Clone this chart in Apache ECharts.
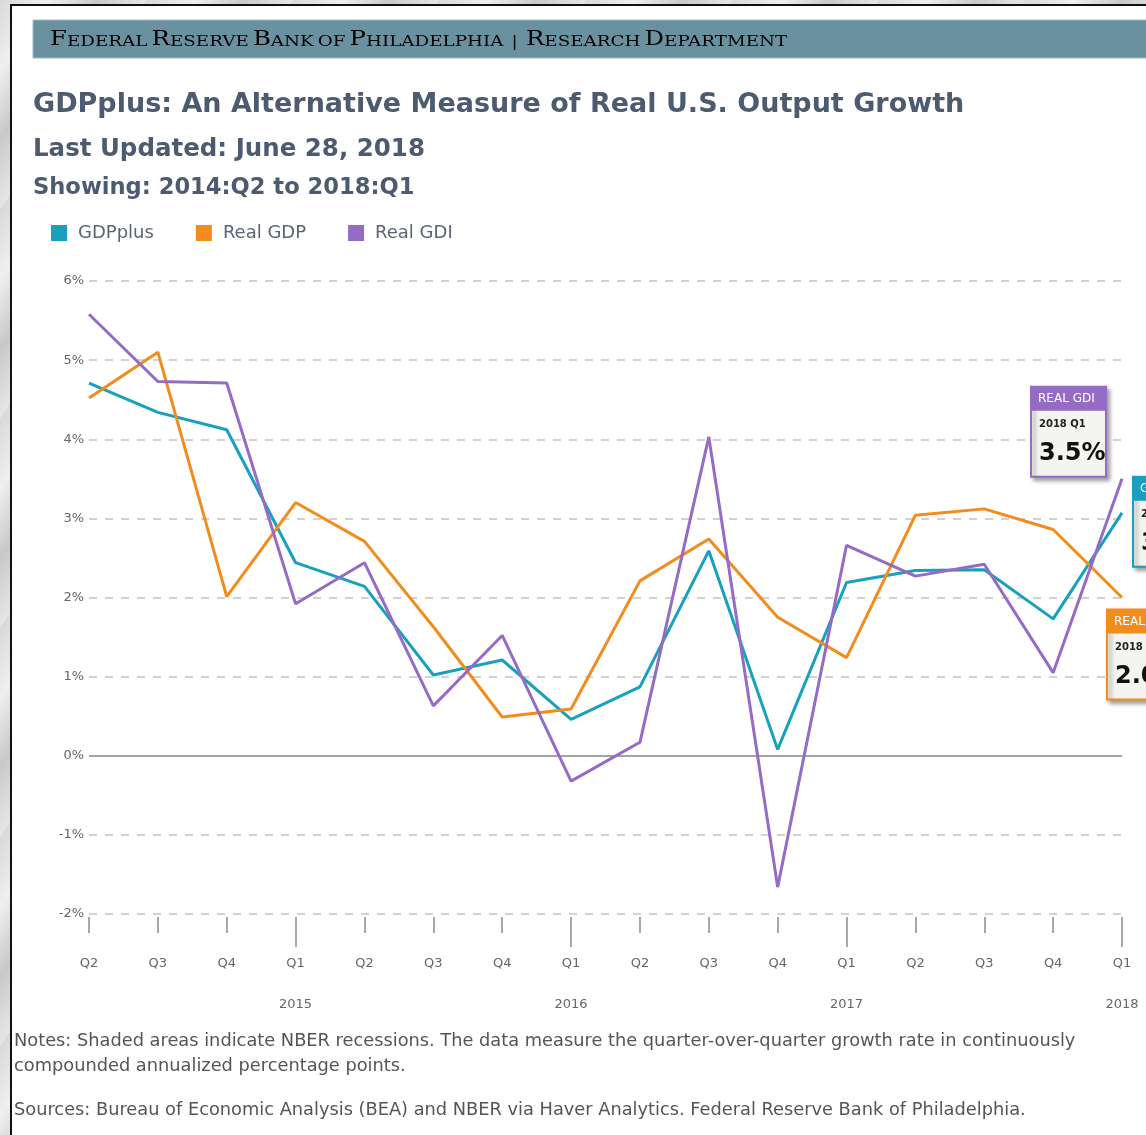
<!DOCTYPE html>
<html>
<head>
<meta charset="utf-8">
<script src="https://cdn.jsdelivr.net/npm/echarts@6/dist/echarts.min.js"></script>
<style>
  html, body { margin: 0; padding: 0; }
  body {
    width: 1146px;
    height: 1135px;
    overflow: hidden;
    background: repeating-linear-gradient(125deg, #d9d9d9 0px, #efefef 40px, #c9c9c9 80px, #e6e6e6 120px);
  }
  .frame {
    position: absolute;
    left: 10px;
    top: 4px;
    width: 1140px;
    height: 1140px;
    background: #fff;
    border-left: 2px solid #111;
    border-top: 2px solid #111;
  }
  #main {
    position: absolute;
    left: 0;
    top: 0;
    width: 1146px;
    height: 1135px;
  }
</style>
</head>
<body>
<div class="frame"></div>
<div id="main"></div>
<script>
// quarters shown, 2014:Q2 .. 2018:Q1
var categories = ['2014 Q2', '2014 Q3', '2014 Q4', '2015 Q1', '2015 Q2', '2015 Q3', '2015 Q4', '2016 Q1',
  '2016 Q2', '2016 Q3', '2016 Q4', '2017 Q1', '2017 Q2', '2017 Q3', '2017 Q4', '2018 Q1'];

// annualized q/q growth, %
var gdpPlus = [4.71, 4.34, 4.12, 2.44, 2.14, 1.02, 1.21, 0.46, 0.87, 2.59, 0.08, 2.19, 2.34, 2.35, 1.73, 3.07];
var realGdp = [4.52, 5.10, 2.01, 3.20, 2.71, 1.63, 0.49, 0.59, 2.21, 2.74, 1.75, 1.24, 3.04, 3.12, 2.86, 2.00];
var realGdi = [5.58, 4.73, 4.71, 1.92, 2.44, 0.63, 1.52, -0.32, 0.17, 4.03, -1.66, 2.66, 2.27, 2.42, 1.05, 3.50];

var yTicks = [-2, -1, 0, 1, 2, 3, 4, 5, 6];

var colors = ['#18a0be', '#f28c1c', '#956bc6'];
var seriesNames = ['GDPplus', 'Real GDP', 'Real GDI'];
var boxTitles = ['GDPPLUS', 'REAL GDP', 'REAL GDI'];

var textFont = 'DejaVu Sans';

var myChart = echarts.init(document.getElementById('main'));
window.addEventListener('resize', function () { myChart.resize(); });

function isQ1 (i) {
  return categories[i].slice(5) === 'Q1';
}

var option = {
  animation: false,
  color: colors,
  grid: {
    left: 89,
    right: 24,
    top: 281,
    bottom: 221
  },
  legend: {
    left: 51,
    top: 224,
    padding: 0,
    icon: 'rect',
    itemWidth: 16,
    itemHeight: 16,
    itemGap: 42,
    data: seriesNames,
    textStyle: {
      fontFamily: textFont,
      fontSize: 18,
      color: '#5c6474',
      padding: [0, 0, 0, 6]
    }
  },
  xAxis: [{
    type: 'category',
    boundaryGap: false,
    data: categories,
    position: 'bottom',
    offset: 3,
    axisLine: { show: false, onZero: false },
    axisTick: {
      show: true,
      interval: 0,
      length: 16,
      lineStyle: { color: '#8a8a8a', width: 1.5 }
    },
    axisLabel: {
      interval: 0,
      margin: 36,
      color: '#666',
      fontFamily: textFont,
      fontSize: 13,
      lineHeight: 20.5,
      formatter: function (value, i) {
        var q = value.slice(5);
        if (q === 'Q1') {
          return q + '\n\n' + value.slice(0, 4); // year under each Q1
        }
        return q;
      }
    },
    splitLine: { show: false }
  }, {
    // longer ticks at the first quarter of each year
    type: 'category',
    boundaryGap: false,
    data: categories,
    position: 'bottom',
    offset: 3,
    axisLine: { show: false, onZero: false },
    axisTick: {
      show: true,
      length: 30,
      interval: function (i) { return isQ1(i); },
      lineStyle: { color: '#8a8a8a', width: 1.5 }
    },
    axisLabel: { show: false },
    splitLine: { show: false }
  }],
  yAxis: {
    type: 'value',
    min: yTicks[0],
    max: yTicks[yTicks.length - 1],
    interval: 1,
    axisLine: { show: false },
    axisTick: { show: false },
    axisLabel: {
      margin: 5,
      color: '#666',
      fontFamily: textFont,
      fontSize: 13,
      formatter: '{value}%'
    },
    splitLine: {
      lineStyle: { color: '#d2d2d2', width: 2, type: [8, 8] }
    }
  },
  series: [gdpPlus, realGdp, realGdi].map(function (vals, k) {
    var s = {
      name: seriesNames[k],
      type: 'line',
      data: vals,
      showSymbol: false,
      lineStyle: { width: 3, color: colors[k] },
      itemStyle: { color: colors[k] },
      z: 3 + k
    };
    if (k === 0) {
      // solid zero line
      s.markLine = {
        silent: true,
        symbol: 'none',
        label: { show: false },
        lineStyle: { color: '#a3a3a3', width: 2, type: 'solid' },
        data: [{ yAxis: 0 }]
      };
    }
    return s;
  })
};

myChart.setOption(option);

// header, titles, notes
var staticGraphics = [
  {
    type: 'rect',
    shape: { x: 33, y: 20, width: 1120, height: 38 },
    style: { fill: '#6a91a0', stroke: '#9db8c2', lineWidth: 1 },
    z: -1
  },
  {
    // small caps look, stretched for the wide letter spacing
    type: 'text',
    x: 50,
    y: 28,
    scaleX: 1.22,
    style: {
      text: '{b|F}{s|EDERAL} {b|R}{s|ESERVE} {b|B}{s|ANK} {s|OF} {b|P}{s|HILADELPHIA}  {s||}  {b|R}{s|ESEARCH} {b|D}{s|EPARTMENT}',
      rich: {
        b: { fontFamily: 'DejaVu Serif', fontSize: 20, color: '#e4ecef', verticalAlign: 'bottom', lineHeight: 22 },
        s: { fontFamily: 'DejaVu Serif', fontSize: 15, color: '#e4ecef', verticalAlign: 'bottom', lineHeight: 22 }
      }
    }
  },
  {
    type: 'text',
    left: 33,
    top: 91,
    style: {
      text: 'GDPplus: An Alternative Measure of Real U.S. Output Growth',
      fontFamily: textFont,
      fontWeight: 'bold',
      fontSize: 27,
      fill: '#4d5b70'
    }
  },
  {
    type: 'text',
    left: 33,
    top: 137,
    style: {
      text: 'Last Updated: June 28, 2018',
      fontFamily: textFont,
      fontWeight: 'bold',
      fontSize: 24.5,
      fill: '#4d5b70'
    }
  },
  {
    type: 'text',
    left: 33,
    top: 177,
    style: {
      text: 'Showing: 2014:Q2 to 2018:Q1',
      fontFamily: textFont,
      fontWeight: 'bold',
      fontSize: 22.6,
      fill: '#4d5b70'
    }
  },
  {
    type: 'text',
    left: 14,
    top: 1029,
    style: {
      text: 'Notes: Shaded areas indicate NBER recessions. The data measure the quarter-over-quarter growth rate in continuously\ncompounded annualized percentage points.',
      fontFamily: textFont,
      fontSize: 17.8,
      lineHeight: 25,
      fill: '#555'
    }
  },
  {
    type: 'text',
    left: 14,
    top: 1101,
    style: {
      text: 'Sources: Bureau of Economic Analysis (BEA) and NBER via Haver Analytics. Federal Reserve Bank of Philadelphia.',
      fontFamily: textFont,
      fontSize: 17.8,
      fill: '#555'
    }
  }
];

// pinned tooltip boxes at the last quarter, placed relative to each point
var boxOffsets = [[11, -36], [-15, 12], [-91, -92]];
var boxW = 75;
var boxH = 90;
var last = categories.length - 1;
var boxes = [gdpPlus, realGdp, realGdi].map(function (vals, k) {
  var p = myChart.convertToPixel({ seriesIndex: k }, [last, vals[last]]);
  var c = colors[k];
  return {
    type: 'group',
    x: p[0] + boxOffsets[k][0],
    y: p[1] + boxOffsets[k][1],
    z: 100,
    children: [
      {
        type: 'rect',
        shape: { x: 0, y: 0, width: boxW, height: boxH },
        style: { fill: '#f4f4f0', stroke: c, lineWidth: 2, shadowBlur: 4, shadowOffsetX: 3, shadowOffsetY: 3, shadowColor: 'rgba(0,0,0,0.35)' }
      },
      {
        type: 'rect',
        shape: { x: 0, y: 0, width: boxW, height: 24 },
        style: { fill: c }
      },
      {
        type: 'text',
        x: 7,
        y: 6,
        style: { text: boxTitles[k], fontFamily: textFont, fontSize: 12, fill: '#fff' }
      },
      {
        type: 'text',
        x: 8,
        y: 33,
        style: { text: categories[last], fontFamily: textFont, fontSize: 10, fontWeight: 'bold', fill: '#222' }
      },
      {
        type: 'text',
        x: 8,
        y: 55,
        style: { text: vals[last].toFixed(1) + '%', fontFamily: textFont, fontSize: 24, fontWeight: 'bold', fill: '#111' }
      }
    ]
  };
});

myChart.setOption({ graphic: staticGraphics.concat(boxes) });
</script>
</body>
</html>
